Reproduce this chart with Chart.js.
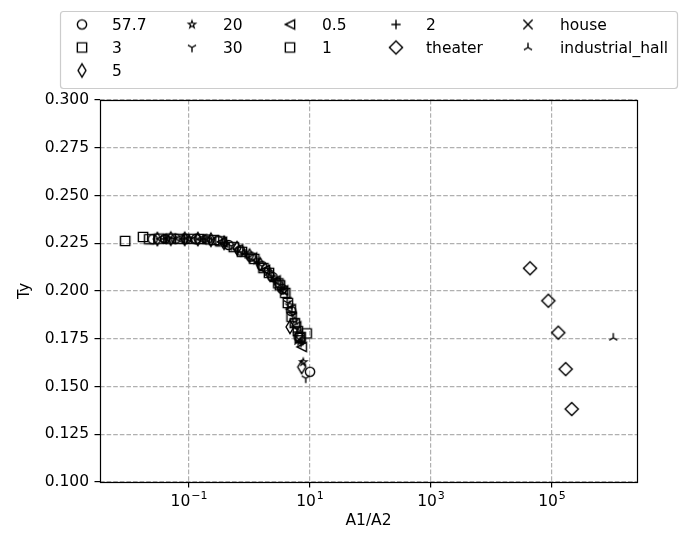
<!DOCTYPE html>
<html><head><meta charset="utf-8">
<script src="https://cdn.jsdelivr.net/npm/chart.js@4/dist/chart.umd.min.js"></script>
<style>html,body{margin:0;padding:0;background:#fff;}</style>
</head><body>
<canvas id="c" width="684" height="534" style="display:block"></canvas>
<script>
// ---------- DATA ----------
const seriesNames = ['57.7','3','5','20','30','0.5','1','2','theater','house','industrial_hall'];
const seriesMarkers = ['o','s','d','*','1','<','s','+','D','x','2'];

const x_57_7 = [0.025, 0.04, 0.06, 0.09, 0.13, 0.2, 0.3, 0.45, 0.7, 1.05, 1.6, 2.4, 3.5, 4.9, 6.5, 10.0];
const ty_57_7 = [0.2271, 0.2273, 0.2274, 0.2273, 0.2272, 0.2270, 0.2264, 0.2241, 0.2212, 0.2180, 0.2132, 0.2073, 0.2010, 0.1895, 0.1760, 0.1577];

const x_3 = [0.0088, 0.0174, 0.032, 0.07, 0.15, 0.33, 0.75, 1.7, 3.2, 4.3, 4.96, 6.8, 8.8];
const ty_3 = [0.2262, 0.2283, 0.2274, 0.2273, 0.2272, 0.2260, 0.2205, 0.2120, 0.2030, 0.1937, 0.1865, 0.1754, 0.1778];

const x_5 = [0.03, 0.05, 0.085, 0.14, 0.23, 0.38, 0.62, 1.0, 1.5, 2.2, 3.1, 4.67, 7.28];
const ty_5 = [0.2272, 0.2274, 0.2273, 0.2272, 0.2268, 0.2252, 0.2224, 0.2185, 0.2140, 0.2085, 0.2035, 0.1812, 0.1602];

const x_20 = [0.045, 0.1, 0.2, 0.4, 0.8, 1.3, 2.0, 2.8, 3.7, 4.6, 5.6, 6.9, 7.75];
const ty_20 = [0.2273, 0.2273, 0.2270, 0.2249, 0.2200, 0.2160, 0.2100, 0.2050, 0.2000, 0.1925, 0.1845, 0.1735, 0.1628];

const x_30 = [0.055, 0.11, 0.24, 0.5, 0.95, 1.6, 2.6, 3.6, 4.3, 5.2, 6.1, 8.5];
const ty_30 = [0.2273, 0.2273, 0.2269, 0.2235, 0.2190, 0.2130, 0.2060, 0.2005, 0.1937, 0.1874, 0.1800, 0.1543];

const x_0_5 = [0.035, 0.07, 0.16, 0.35, 0.65, 1.1, 1.8, 2.7, 3.6, 4.8, 5.9, 7.3];
const ty_0_5 = [0.2273, 0.2274, 0.2271, 0.2257, 0.2218, 0.2175, 0.2110, 0.2055, 0.2003, 0.1905, 0.1815, 0.1707];

const x_1 = [0.022, 0.05, 0.11, 0.26, 0.55, 1.2, 2.1, 3.0, 3.9, 5.6, 6.3, 7.0];
const ty_1 = [0.2271, 0.2274, 0.2273, 0.2267, 0.2230, 0.2168, 0.2095, 0.2040, 0.1990, 0.1832, 0.1790, 0.1760];

const x_2 = [0.04, 0.08, 0.17, 0.38, 0.85, 1.4, 2.3, 3.3, 4.2, 5.0, 6.2, 7.1];
const ty_2 = [0.2273, 0.2273, 0.2271, 0.2252, 0.2195, 0.2148, 0.2078, 0.2020, 0.1965, 0.1890, 0.1785, 0.1730];

const x_theater = [43300, 86900, 127000, 168000, 212000];
const ty_theater = [0.2119, 0.1949, 0.1782, 0.1591, 0.1382];

const x_house = [6.6];
const ty_house = [0.1745];

const x_industrial = [1030000];
const ty_industrial = [0.1755];

const xTickValues = [0.1, 10, 1000, 100000];
const xTickBase = '10';
const xTickExponents = ['\u22121', '1', '3', '5'];
const yTickValues = [0.100, 0.125, 0.150, 0.175, 0.200, 0.225, 0.250, 0.275, 0.300];
const yTickLabels = ['0.100','0.125','0.150','0.175','0.200','0.225','0.250','0.275','0.300'];

const seriesX = [x_57_7, x_3, x_5, x_20, x_30, x_0_5, x_1, x_2, x_theater, x_house, x_industrial];
const seriesY = [ty_57_7, ty_3, ty_5, ty_20, ty_30, ty_0_5, ty_1, ty_2, ty_theater, ty_house, ty_industrial];

// ---------- MARKERS ----------
const MS = 9.3, LW = 1.4;
function makeMarker(kind) {
  const c = document.createElement('canvas');
  c.width = 20; c.height = 20;
  const g = c.getContext('2d');
  g.translate(10, 10);
  g.strokeStyle = '#000'; g.lineWidth = LW; g.lineJoin = 'miter';
  const r = MS / 2;
  g.beginPath();
  switch (kind) {
    case 'o': g.arc(0, 0, r, 0, Math.PI * 2); break;
    case 's': g.rect(-r, -r, 2 * r, 2 * r); break;
    case 'd': { const h = r * Math.SQRT2, w = h * 0.6;
      g.moveTo(0, -h); g.lineTo(w, 0); g.lineTo(0, h); g.lineTo(-w, 0); g.closePath(); break; }
    case 'D': { const h = r * Math.SQRT2;
      g.moveTo(0, -h); g.lineTo(h, 0); g.lineTo(0, h); g.lineTo(-h, 0); g.closePath(); break; }
    case '*': { const ro = r * 0.85, ri = ro * 0.381966;
      g.lineWidth = 1.1;
      for (let i = 0; i < 10; i++) {
        const a = -Math.PI / 2 + i * Math.PI / 5;
        const rr = i % 2 === 0 ? ro : ri;
        const px = rr * Math.cos(a), py = rr * Math.sin(a);
        if (i === 0) g.moveTo(px, py); else g.lineTo(px, py);
      }
      g.closePath(); break; }
    case '1':
      g.moveTo(0, 0); g.lineTo(0, r);
      g.moveTo(0, 0); g.lineTo(-r * 0.866, -r * 0.5);
      g.moveTo(0, 0); g.lineTo(r * 0.866, -r * 0.5); break;
    case '2':
      g.moveTo(0, 0); g.lineTo(0, -r);
      g.moveTo(0, 0); g.lineTo(-r * 0.866, r * 0.5);
      g.moveTo(0, 0); g.lineTo(r * 0.866, r * 0.5); break;
    case '<':
      g.moveTo(-r, 0); g.lineTo(r, -r); g.lineTo(r, r); g.closePath(); break;
    case '+':
      g.moveTo(-r, 0); g.lineTo(r, 0); g.moveTo(0, -r); g.lineTo(0, r); break;
    case 'x':
      g.moveTo(-r, -r); g.lineTo(r, r); g.moveTo(-r, r); g.lineTo(r, -r); break;
  }
  g.stroke();
  return c;
}
const markerImgs = seriesMarkers.map(makeMarker);

const datasets = seriesNames.map((name, i) => ({
  label: name,
  data: seriesX[i].map((x, j) => ({ x: x, y: seriesY[i][j] })),
  pointStyle: markerImgs[i],
  pointRadius: 5,
  pointHoverRadius: 5,
  showLine: false
}));

// ---------- PLUGINS ----------
const FONT = '15.5px "DejaVu Sans"';
const SUPFONT = '11px "DejaVu Sans"';
const chartPlugin = {
  id: 'mplExtras',
  afterDatasetsDraw(chart) {
    const { ctx, chartArea: a } = chart;
    ctx.save();
    ctx.strokeStyle = '#000'; ctx.lineWidth = 1.2;
    ctx.strokeRect(Math.round(a.left) + 0.5, Math.round(a.top) + 0.5,
                   Math.round(a.right - a.left), Math.round(a.bottom - a.top));
    ctx.restore();
  },
  afterDraw(chart) {
    const ctx = chart.ctx;
    const xs = chart.scales.x;
    ctx.save();
    ctx.fillStyle = '#000';
    ctx.textAlign = 'left';
    ctx.textBaseline = 'alphabetic';
    // x tick labels: base 10 with raised exponent
    const baseY = chart.chartArea.bottom + 24;
    xTickValues.forEach((v, i) => {
      const px = xs.getPixelForValue(v);
      ctx.font = FONT;
      const wb = ctx.measureText(xTickBase).width;
      ctx.font = SUPFONT;
      const we = ctx.measureText(xTickExponents[i]).width;
      const x0 = px - (wb + we + 1) / 2;
      ctx.font = FONT;
      ctx.fillText(xTickBase, x0, baseY);
      ctx.font = SUPFONT;
      ctx.fillText(xTickExponents[i], x0 + wb + 1, baseY - 7);
    });
    // legend
    const bx = 60.5, by = 11.5, bw = 617, bh = 77;
    ctx.beginPath();
    ctx.roundRect(bx, by, bw, bh, 3);
    ctx.fillStyle = 'rgba(255,255,255,0.8)';
    ctx.fill();
    ctx.strokeStyle = '#cccccc'; ctx.lineWidth = 1.2;
    ctx.stroke();
    const cols = [[0, 1, 2], [3, 4], [5, 6], [7, 8], [9, 10]];
    const markerX = [82, 192, 290, 396, 528];
    const textX = [112, 223, 322, 426, 560];
    const rowY = [24.5, 47.5, 70.5];
    ctx.font = FONT; ctx.fillStyle = '#000';
    ctx.textBaseline = 'middle'; ctx.textAlign = 'left';
    cols.forEach((col, ci) => {
      col.forEach((si, ri) => {
        const img = markerImgs[si];
        ctx.drawImage(img, markerX[ci] - img.width / 2, rowY[ri] - img.height / 2);
        ctx.fillText(seriesNames[si], textX[ci], rowY[ri] + 1);
      });
    });
    ctx.restore();
  }
};

Chart.defaults.font.family = '"DejaVu Sans"';
Chart.defaults.font.size = 15.5;
Chart.defaults.color = '#000';

new Chart(document.getElementById('c'), {
  type: 'scatter',
  data: { datasets },
  options: {
    responsive: false,
    animation: false,
    events: [],
    layout: { padding: { left: 0, right: 47, top: 100, bottom: 0 } },
    plugins: { legend: { display: false }, tooltip: { enabled: false } },
    scales: {
      x: {
        type: 'logarithmic',
        position: 'bottom',
        min: 0.00338,
        max: 2540000,
        afterBuildTicks: s => { s.ticks = xTickValues.map(v => ({ value: v })); },
        afterFit: s => { s.height = 52; },
        ticks: {
          autoSkip: false, maxRotation: 0, minRotation: 0, padding: 4,
          callback: () => ''
        },
        grid: {
          color: '#b0b0b0', lineWidth: 1.2,
          drawTicks: true, tickLength: 5.5, tickColor: '#000', tickWidth: 1.2, tickBorderDash: []
        },
        border: { display: false, dash: [4.6, 2] },
        title: { display: true, text: 'A1/A2', padding: { top: 0, bottom: 3.7 } }
      },
      y: {
        type: 'linear',
        position: 'left',
        min: 0.1,
        max: 0.3,
        afterBuildTicks: s => { s.ticks = yTickValues.map(v => ({ value: v })); },
        afterFit: s => { s.width = 100; },
        ticks: {
          autoSkip: false, padding: 5.5,
          callback: (v, i) => yTickLabels[i]
        },
        grid: {
          color: '#b0b0b0', lineWidth: 1.2,
          drawTicks: true, tickLength: 5.5, tickColor: '#000', tickWidth: 1.2, tickBorderDash: []
        },
        border: { display: false, dash: [4.6, 2] },
        title: { display: true, text: 'Ty', padding: { top: 15.7, bottom: 0 } }
      }
    }
  },
  plugins: [chartPlugin]
});
</script>
</body></html>
